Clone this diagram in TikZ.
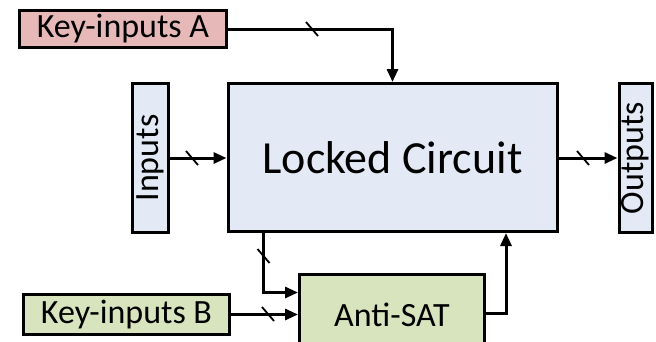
\documentclass[tikz,border=0pt]{standalone}
\usepackage{fontspec}
\setmainfont{Carlito}
\usetikzlibrary{arrows.meta}
\definecolor{bluefill}{HTML}{E4EAF5}
\definecolor{pinkfill}{HTML}{E6B9B8}
\definecolor{greenfill}{HTML}{D7E4BD}
\begin{document}
\begin{tikzpicture}[x=1pt,y=-1pt,
  blk/.style={draw=black,line width=3pt,inner sep=0pt,font=\fontsize{34}{34}\selectfont},
  conn/.style={line width=3pt,-{Triangle[length=13pt,width=11pt]}},
  bus/.style={line width=1.8pt}]
\useasboundingbox (0,0) rectangle (656,341);
\node[blk,fill=bluefill,minimum width=329pt,minimum height=148pt,font=\fontsize{46}{46}\selectfont] (locked) at (392.5,157.5) {Locked Circuit};
\node[blk,fill=bluefill,minimum width=36pt,minimum height=149pt] (inputs) at (150.5,158) {\rotatebox{90}{Inputs}};
\node[blk,fill=bluefill,minimum width=33pt,minimum height=149pt] (outputs) at (635.5,158) {\rotatebox{90}{Outputs}};
\node[blk,fill=pinkfill,minimum width=207pt,minimum height=37pt] (keyA) at (123,29) {Key-inputs A};
\node[blk,fill=greenfill,minimum width=206pt,minimum height=40pt] (keyB) at (126.5,314.5) {Key-inputs B};
\node[blk,fill=greenfill,minimum width=185pt,minimum height=82pt] (anti) at (392,315) {Anti-SAT};
\coordinate (tap) at (263.5,232);
\coordinate (bend) at (263.5,292.5);
\coordinate (back) at (506,313);
\draw[conn] (keyA.east) -| (locked.north);
\draw[conn] (inputs.east) -- (locked.west |- inputs.east);
\draw[conn] (locked.east |- outputs.west) -- (outputs.west);
\draw[conn] (tap) -- (bend) -- (bend -| anti.west);
\draw[conn] (keyB.east) -- (keyB.east -| anti.west);
\draw[conn] (anti.east |- back) -- (back) -- (back |- locked.south);
\draw[bus] (306,22) -- (318,36);
\draw[bus] (186,151) -- (198,165);
\draw[bus] (577,151) -- (589,165);
\draw[bus] (257.5,249) -- (269.5,263);
\draw[bus] (262,307) -- (274,321);
\end{tikzpicture}
\end{document}
